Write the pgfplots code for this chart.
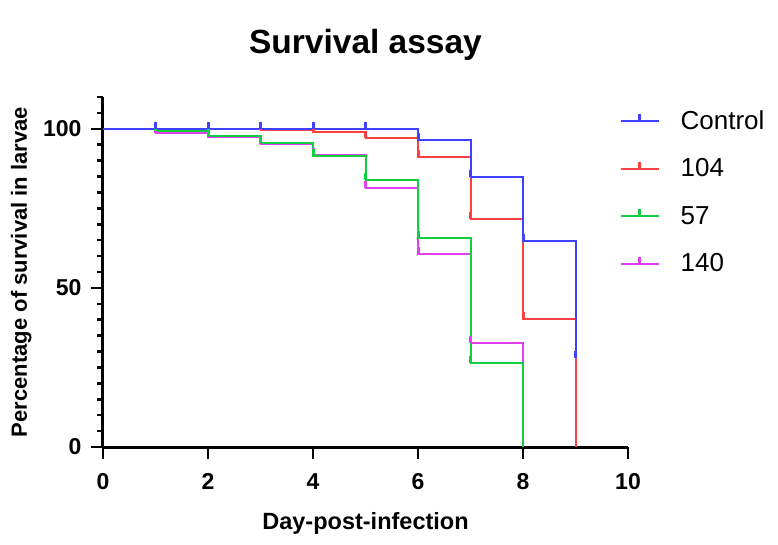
\documentclass[border=0pt]{standalone}
\usepackage{pgfplots}
\pgfplotsset{compat=1.18}
\usepackage{fontspec}
\setmainfont{Liberation Sans}
\definecolor{cblue}{RGB}{64,64,255}
\definecolor{cred}{RGB}{255,64,64}
\definecolor{cgreen}{RGB}{16,208,64}
\definecolor{cmag}{RGB}{224,64,240}
\pgfdeclareplotmark{cens}{\pgfpathrectangle{\pgfpoint{-1.5pt}{0pt}}{\pgfpoint{3pt}{7pt}}\pgfusepathqfill}
\begin{document}
\begin{tikzpicture}
\useasboundingbox (-103pt,-97pt) rectangle (675pt,447pt);
\begin{axis}[
  scale only axis, width=525pt, height=350pt,
  xmin=0, xmax=10, ymin=0, ymax=110,
  axis x line*=bottom, axis y line*=left,
  axis line style={line width=3pt,-},
  xtick={0,2,...,10}, ytick={0,50,100},
  minor ytick={5,10,...,110},
  tick align=outside,
  major tick length=12pt, minor tick length=6pt,
  major tick style={black,line width=2.5pt},
  minor tick style={black,line width=2.5pt},
  /pgf/number format/assume math mode=true,
  tick label style={font=\bfseries\fontsize{23}{27}\selectfont},
  xticklabel style={yshift=-11pt},
  yticklabel style={xshift=-6pt},
  title={Survival assay},
  title style={at={(axis description cs:0.5,1)}, anchor=base, yshift=37pt, font=\bfseries\fontsize{33.5}{38}\selectfont},
  xlabel={Day-post-infection},
  xlabel style={at={(axis description cs:0.5,0)}, anchor=base, yshift=-82pt, font=\bfseries\fontsize{23.5}{27}\selectfont},
  ylabel={Percentage of survival in larvae},
  ylabel style={at={(axis description cs:0,0.5)}, anchor=base, yshift=76pt, font=\bfseries\fontsize{22}{26}\selectfont},
  reverse legend,
  legend cell align=left,
  legend style={at={(0.978,0.968)}, anchor=north west, draw=none, fill=none,
    font=\fontsize{26}{30}\selectfont, nodes={inner sep=0pt}, row sep=28pt,
    /tikz/every odd column/.append style={column sep=21pt}},
  legend image code/.code={\draw[#1, mark indices={2}] plot coordinates {(0pt,0pt)(19pt,0pt)(38pt,0pt)};},
  after end axis/.code={
    \foreach \t in {0,2,4,6,8,10} {\draw[black,line width=2.5pt] (axis cs:\t,0) -- ++(0pt,-12pt);}
    \foreach \t in {0,50,100} {\draw[black,line width=2.5pt] (axis cs:0,\t) -- ++(-12pt,0pt);}
  },
]
\addplot[cmag, line width=2pt, const plot, mark=cens, mark indices={2,...,8}] coordinates {
(0,100)(1,98.7)(2,97.3)(3,95.3)(4,91.9)(5,81.3)(6,60.7)(7,32.8)(8,0)};
\addlegendentry{140}
\addplot[cgreen, line width=2pt, const plot, mark=cens, mark indices={2,...,8}] coordinates {
(0,100)(1,99.2)(2,97.7)(3,95.7)(4,91.4)(5,84.0)(6,65.6)(7,26.3)(8,0)};
\addlegendentry{57}
\addplot[cred, line width=2pt, const plot, mark=cens, mark indices={4,...,9}] coordinates {
(0,100)(1,100)(2,100)(3,99.6)(4,98.9)(5,97.0)(6,91.3)(7,71.8)(8,40.2)(9,0)};
\addlegendentry{104}
\addplot[cblue, line width=2pt, const plot, mark=cens, mark indices={2,...,10}] coordinates {
(0,100)(1,100)(2,100)(3,100)(4,100)(5,100)(6,96.6)(7,85.0)(8,64.6)(9,28.0)};
\addlegendentry{Control}
\end{axis}
\end{tikzpicture}
\end{document}
